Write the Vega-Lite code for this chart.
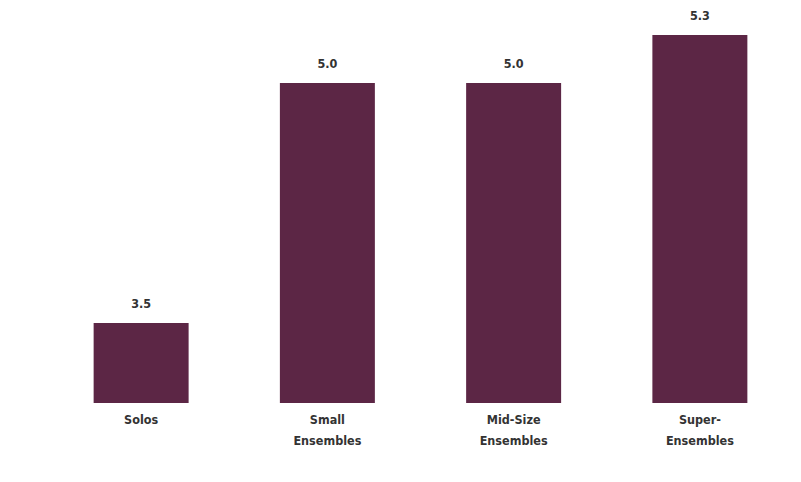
{
  "$schema": "https://vega.github.io/schema/vega-lite/v6.json",
  "width": 745,
  "height": 400,
  "autosize": {"type": "none"},
  "padding": {"left": 48, "top": 3, "right": 8, "bottom": 79},
  "background": "white",
  "data": {"values": [
    {"group": "Solos", "value": 3.5},
    {"group": "Small|Ensembles", "value": 5.0},
    {"group": "Mid-Size|Ensembles", "value": 5.0},
    {"group": "Super-|Ensembles", "value": 5.3}
  ]},
  "encoding": {
    "x": {"field": "group", "type": "nominal", "sort": null,
      "scale": {"paddingInner": 0.49, "paddingOuter": 0.245},
      "axis": {"title": null, "domain": false, "ticks": false, "labelAngle": 0,
        "labelExpr": "split(datum.label, '|')", "labelFont": "DejaVu Sans Condensed",
        "labelFontSize": 12.5, "labelFontWeight": "bold", "labelColor": "#333333", "labelPadding": 10, "labelLineHeight": 21}},
    "y": {"field": "value", "type": "quantitative",
      "scale": {"domain": [3, 5.5], "zero": false, "nice": false},
      "axis": null}
  },
  "layer": [
    {"mark": {"type": "bar", "color": "#5c2645"}, "encoding": {"y2": {"datum": 3}}},
    {"mark": {"type": "text", "baseline": "bottom", "dy": -12, "font": "DejaVu Sans Condensed", "fontSize": 12.5, "fontWeight": "bold", "color": "#333333"},
     "encoding": {"text": {"field": "value", "type": "quantitative", "format": ".1f"}}}
  ],
  "config": {"view": {"stroke": null}}
}
